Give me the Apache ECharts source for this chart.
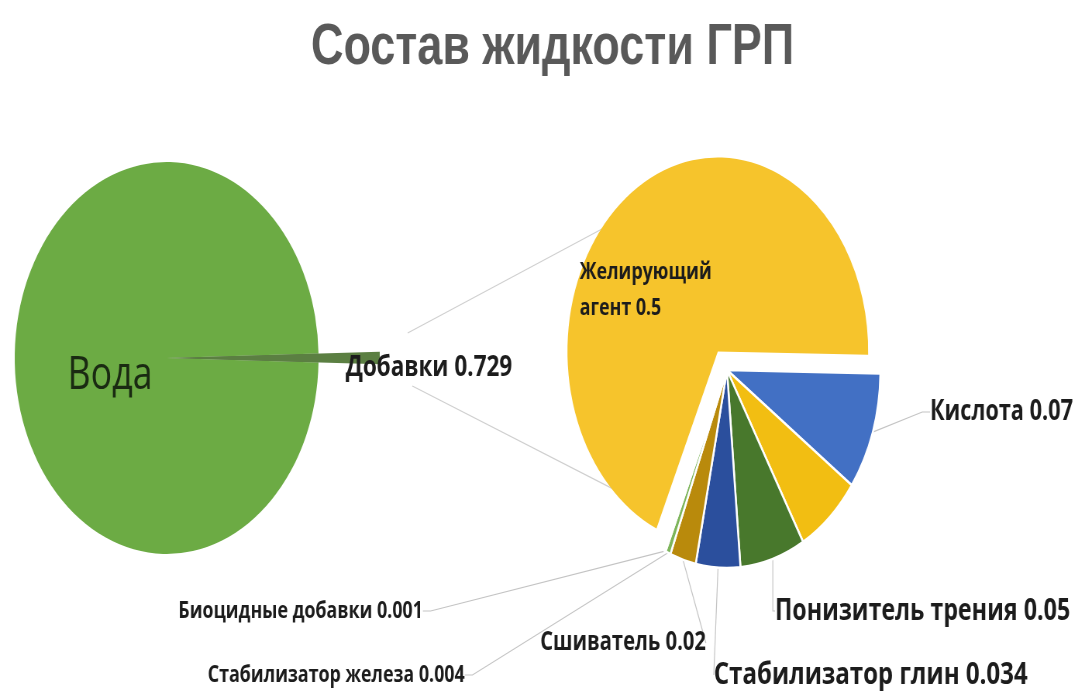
<!DOCTYPE html>
<html>
<head>
<meta charset="utf-8">
<title>Состав жидкости ГРП</title>
<script src="https://cdn.jsdelivr.net/npm/echarts@6/dist/echarts.min.js"></script>
<style>
  html, body { margin: 0; padding: 0; background: #ffffff; overflow: hidden; }
  #frame { width: 1085px; height: 691px; overflow: hidden; position: relative; }
  /* the drawing is laid out on a wider canvas and squeezed horizontally */
  #chart { width: 1400px; height: 691px; transform: scaleX(0.775); transform-origin: 0 0; }
</style>
</head>
<body>
<div id="frame"><div id="chart"></div></div>
<script>
// Whole fluid, %: water and the additives share
const mainNames  = ['Добавки', 'Вода'];
const mainValues = [0.729, 99.271];

// Breakdown of the additives share, %
const addNames  = ['Желирующий агент', 'Кислота', 'Прочее', 'Понизитель трения',
                   'Стабилизатор глин', 'Сшиватель', 'Стабилизатор железа', 'Биоцидные добавки'];
const addValues = [0.5, 0.07, 0.05, 0.05, 0.034, 0.02, 0.004, 0.001];

const titleText = 'Состав жидкости ГРП';

// ---- styling / layout ----
const mainColors = ['#5b7f42', '#6cab44'];
const addColors  = ['#f6c42c', '#4270c4', '#f2be12', '#48782c', '#2b4f9d', '#b98a0c', '#7db55b', '#9dc3e6'];
const FONT = '"Open Sans", "Liberation Sans", sans-serif';

// label anchors [x, y, align, font size] in the drawing's own coordinates
const labelAt = {
  'Вода':                 [142, 376, 'center', 46],
  'Добавки':              [446, 368, 'left', 29],
  'Желирующий агент':     [748, 290, 'left', 23],
  'Кислота':              [1200, 412, 'left', 28],
  'Понизитель трения':    [1000, 611, 'left', 30],
  'Стабилизатор глин':    [921, 675, 'left', 31],
  'Сшиватель':            [697, 643, 'left', 26],
  'Стабилизатор железа':  [268, 675, 'left', 23],
  'Биоцидные добавки':    [230, 611, 'left', 23]
};

function placeLabel(name) {
  const p = labelAt[name];
  if (!p) return {};
  return { x: p[0], y: p[1], align: p[2], verticalAlign: 'middle', fontSize: p[3] };
}

const mainCenter = [215, 358];
const mainRadius = 196;
const addCenter  = [938, 370];
const addRadius  = 198;
const bigRadius  = 194;
const bigPull    = 22;

const mainTotal = mainValues.reduce((a, b) => a + b, 0);
// additives slice centred on 3 o'clock
const mainStart = mainValues[0] / mainTotal * 360 / 2;
// big slice ends just above 3 o'clock, small ones follow clockwise
const addTotal = addValues.reduce((a, b) => a + b, 0);
const bigSweep = addValues[0] / addTotal * 360;
const addStart = bigSweep - 1;
// the big slice is pulled out along its bisector
const bigMid = (addStart - bigSweep / 2) * Math.PI / 180;
const bigCenter = [addCenter[0] + bigPull * Math.cos(bigMid), addCenter[1] - bigPull * Math.sin(bigMid)];

// connectors run from beside the additives label to the rim of the big slice
function rimPoint(deg) {
  const a = deg * Math.PI / 180, r = bigRadius - 2;
  return [bigCenter[0] + r * Math.cos(a), bigCenter[1] - r * Math.sin(a)];
}
const connectors = [
  [[526, 333], rimPoint(140)],
  [[532, 386], rimPoint(226)]
];

const boldLabel = { fontFamily: FONT, fontWeight: 'bold', color: '#1c1c1c', overflow: 'none' };
const hidden = { show: false };
const nameValue = p => p.name + ' ' + p.value;

const waterData = mainNames.map((n, i) => ({
  name: n, value: mainValues[i],
  itemStyle: { color: mainColors[i] },
  label: n === 'Вода'
    ? { show: true, position: 'inside', formatter: '{b}', fontFamily: FONT,
        fontSize: labelAt[n][3], fontWeight: 'normal', color: '#1a2a12' }
    : hidden
}));

// the additives wedge drawn longer than the water disc
const wedgeData = mainNames.map((n, i) => i === 0
  ? { name: n, value: mainValues[i], itemStyle: { color: mainColors[i] },
      label: Object.assign({ show: true, position: 'outside', formatter: nameValue,
                             fontSize: labelAt[n][3] }, boldLabel),
      labelLine: hidden }
  : { name: n, value: mainValues[i], itemStyle: { color: 'transparent', borderWidth: 0 },
      label: hidden, labelLine: hidden });

// pulled-out big slice (other slots kept empty so the angles stay shared)
const bigData = addNames.map((n, i) => i === 0
  ? { name: n, value: addValues[i], itemStyle: { color: addColors[i] },
      label: Object.assign({ show: true, position: 'inside', lineHeight: 36,
                             fontSize: labelAt[n][3],
                             formatter: p => p.name.replace(' ', '\n') + ' ' + p.value }, boldLabel),
      labelLine: hidden }
  : { name: n, value: addValues[i], itemStyle: { color: 'transparent', borderWidth: 0 },
      label: hidden, labelLine: hidden });

// the remaining small slices
const smallData = addNames.map((n, i) => {
  if (i === 0) {
    return { name: n, value: addValues[i], itemStyle: { color: 'transparent', borderWidth: 0 },
             label: hidden, labelLine: hidden };
  }
  const d = { name: n, value: addValues[i], itemStyle: { color: addColors[i] } };
  if (labelAt[n]) {
    d.label = Object.assign({ show: true, position: 'outside', formatter: nameValue,
                              fontSize: labelAt[n][3] }, boldLabel);
  } else {
    d.label = hidden;
    d.labelLine = hidden;
  }
  return d;
});

const chart = echarts.init(document.getElementById('chart'), null, { renderer: 'canvas' });
chart.setOption({
  backgroundColor: '#ffffff',
  animation: false,
  title: {
    text: titleText,
    left: 708,
    textAlign: 'center',
    top: 12,
    textStyle: { fontFamily: '"Liberation Sans", Arial, sans-serif', fontWeight: 'bold',
                 fontSize: 58, lineHeight: 62, color: '#595959' }
  },
  graphic: connectors.map(([a, b]) => ({
    type: 'line', z: 0,
    shape: { x1: a[0], y1: a[1], x2: b[0], y2: b[1] },
    style: { stroke: '#cfcfcf', lineWidth: 1.3 }
  })),
  series: [
    {
      type: 'pie', z: 2, silent: true,
      center: mainCenter, radius: mainRadius,
      startAngle: mainStart, clockwise: true,
      labelLine: hidden,
      labelLayout: p => placeLabel(mainNames[p.dataIndex]),
      emphasis: { disabled: true },
      data: waterData
    },
    {
      type: 'pie', z: 3, silent: true,
      center: mainCenter, radius: 275,
      startAngle: mainStart, clockwise: true,
      labelLayout: p => placeLabel(mainNames[p.dataIndex]),
      emphasis: { disabled: true },
      data: wedgeData
    },
    {
      type: 'pie', z: 2, silent: true,
      center: bigCenter, radius: bigRadius,
      startAngle: addStart, clockwise: true,
      labelLayout: p => placeLabel(addNames[p.dataIndex]),
      emphasis: { disabled: true },
      data: bigData
    },
    {
      type: 'pie', z: 2, silent: true,
      center: addCenter, radius: addRadius,
      startAngle: addStart, clockwise: true,
      itemStyle: { borderColor: '#ffffff', borderWidth: 2.5 },
      labelLine: { show: true, length: 14, length2: 10, lineStyle: { color: '#c4c4c4', width: 1.2 } },
      labelLayout: p => placeLabel(addNames[p.dataIndex]),
      emphasis: { disabled: true },
      data: smallData
    }
  ]
});
</script>
</body>
</html>
